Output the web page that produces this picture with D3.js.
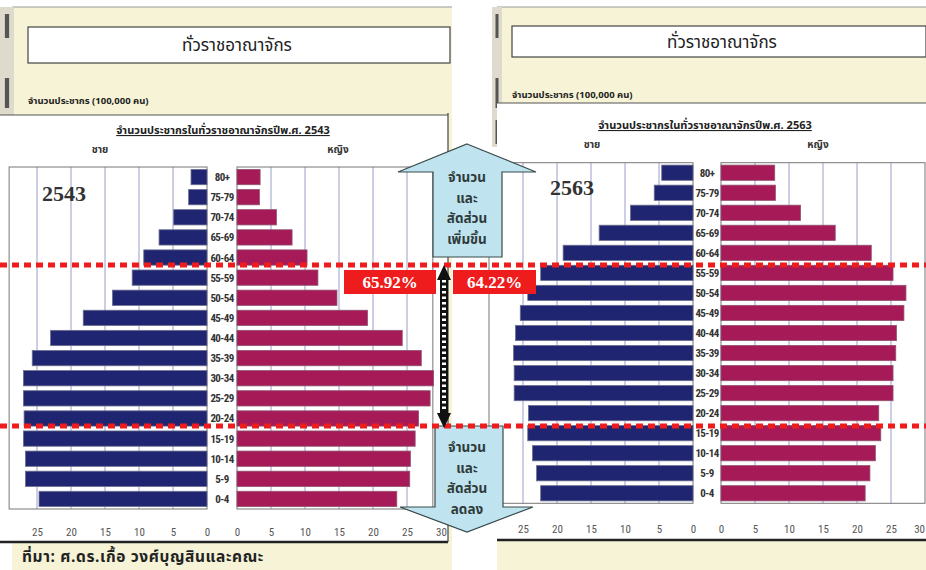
<!DOCTYPE html>
<html><head><meta charset="utf-8">
<script src="https://cdn.jsdelivr.net/npm/d3@7"></script>
<style>
html,body{margin:0;padding:0;background:#fff;}
svg{display:block;}
.thai{font-family:"Noto Sans Thai","Noto Sans Thai UI","Loma","Garuda","Noto Sans","DejaVu Sans",sans-serif;}
.narrow{font-family:"Liberation Sans Narrow","Arial Narrow","Roboto Condensed","Liberation Sans",sans-serif;}
.serif{font-family:"Liberation Serif","DejaVu Serif",serif;}
</style></head>
<body>
<svg id="c" width="926" height="570"></svg>
<script>
// ---------------- data ----------------
const ageGroups = ["80+","75-79","70-74","65-69","60-64","55-59","50-54","45-49","40-44","35-39","30-34","25-29","20-24","15-19","10-14","5-9","0-4"];
const male2543   = [2.35,2.7,4.9,7.05,9.3,11.0,13.9,18.2,23.0,25.7,27.0,27.0,26.9,27.0,26.7,26.7,24.7];
const female2543 = [3.4,3.3,5.8,8.1,10.3,11.9,14.7,19.2,24.3,27.1,28.9,28.4,26.7,26.2,25.5,25.4,23.5];
const male2563   = [4.6,5.7,9.2,13.8,19.1,22.4,24.3,25.4,26.1,26.4,26.3,26.3,24.2,24.3,23.6,23.0,22.4];
const female2563 = [7.9,8.0,11.7,16.8,22.1,25.3,27.2,26.9,25.8,25.7,25.3,25.3,23.2,23.5,22.7,21.9,21.2];
const tickValues = [0,5,10,15,20,25,30];
const gridValues = [5,10,15,20,25];
const titleText = "ทั่วราชอาณาจักร";
const unitText = "จำนวนประชากร (100,000 คน)";
const subTitle2543 = "จำนวนประชากรในทั่วราชอาณาจักรปีพ.ศ. 2543";
const subTitle2563 = "จำนวนประชากรในทั่วราชอาณาจักรปีพ.ศ. 2563";
const maleLabel = "ชาย", femaleLabel = "หญิง";
const upArrowLines = ["จำนวน","และ","สัดส่วน","เพิ่มขึ้น"];
const downArrowLines = ["จำนวน","และ","สัดส่วน","ลดลง"];
const share2543 = "65.92%", share2563 = "64.22%";
const sourceText = "ที่มา:  ศ.ดร.เกื้อ วงศ์บุญสินและคณะ";

// ---------------- drawing ----------------
const svg = d3.select("#c");
const CREAM = "#f6f3d6", NAVY = "#1f2571", CRIMSON = "#a61a57", RED = "#ee1c1c", GRID = "#9aa0c8", FRAME = "#777";

function panel(o){
  svg.append("rect").attr("x",o.x0).attr("y",7).attr("width",o.x1-o.x0).attr("height",563).attr("fill",CREAM);
  svg.append("line").attr("x1",o.x0).attr("x2",o.x1).attr("y1",7).attr("y2",7).attr("stroke","#999").attr("stroke-width",1);
  svg.append("rect").attr("x",o.stripX).attr("y",7).attr("width",o.stripW).attr("height",140).attr("fill","#dedbcc");
  [[14,24],[78,30],[120,24]].forEach(([y,h])=>{
    svg.append("rect").attr("x",o.stripX+o.stripW*0.35).attr("y",y).attr("width",o.stripW*0.3).attr("height",h).attr("fill","#555");
  });
  svg.append("rect").attr("x",o.wx0).attr("y",o.wy0).attr("width",o.wx1-o.wx0).attr("height",o.wy1-o.wy0).attr("fill","#fff");
  svg.append("line").attr("x1",o.wx0).attr("x2",o.wx1).attr("y1",o.wy0).attr("y2",o.wy0).attr("stroke","#555").attr("stroke-width",1.2);
  svg.append("line").attr("x1",o.wx0).attr("x2",o.wx1).attr("y1",o.wy1).attr("y2",o.wy1).attr("stroke","#222").attr("stroke-width",2.5);
  if(o.rightBorder) svg.append("line").attr("x1",o.wx1).attr("x2",o.wx1).attr("y1",o.wy0-2).attr("y2",o.wy1).attr("stroke","#444").attr("stroke-width",1.2);
  svg.append("rect").attr("x",o.tb[0]).attr("y",o.tb[1]).attr("width",o.tb[2]).attr("height",o.tb[3])
     .attr("fill","#fff").attr("stroke","#444").attr("stroke-width",1.2);
  svg.append("text").attr("class","thai").attr("x",o.tb[0]+o.tb[2]/2+o.titleDx).attr("y",o.tb[1]+o.tb[3]/2+6)
     .attr("text-anchor","middle").attr("font-size",17).attr("fill","#222").text(titleText);
  svg.append("text").attr("class","thai").attr("x",o.unitX).attr("y",o.unitY).attr("font-size",9.5).attr("font-weight","bold")
     .attr("fill","#222").text(unitText);
  svg.append("text").attr("class","thai").attr("x",o.subX).attr("y",o.subY).attr("text-anchor","middle")
     .attr("font-size",11).attr("font-weight","bold").attr("fill","#222").attr("text-decoration","underline").text(o.sub);
  svg.append("text").attr("class","thai").attr("x",o.mlX).attr("y",o.subY+19).attr("text-anchor","middle")
     .attr("font-size",10).attr("font-weight","bold").attr("fill","#333").text(maleLabel);
  svg.append("text").attr("class","thai").attr("x",o.flX).attr("y",o.subY+19).attr("text-anchor","middle")
     .attr("font-size",10).attr("font-weight","bold").attr("fill","#333").text(femaleLabel);

  const y = d3.scaleBand().domain(ageGroups).range([o.top,o.bottom]).paddingInner(0.24).paddingOuter(0.12);
  const xm = d3.scaleLinear().domain([0,30]).range([o.m0, o.m0 - 30*o.u]);
  const xf = d3.scaleLinear().domain([0,30]).range([o.f0, o.f0 + 30*o.u]);
  const g = svg.append("g");
  g.selectAll(".gm").data(gridValues).join("line").attr("x1",d=>xm(d)).attr("x2",d=>xm(d))
    .attr("y1",o.top).attr("y2",o.bottom).attr("stroke",GRID).attr("stroke-width",1);
  g.selectAll(".gf").data(gridValues).join("line").attr("x1",d=>xf(d)).attr("x2",d=>xf(d))
    .attr("y1",o.top).attr("y2",o.bottom).attr("stroke",GRID).attr("stroke-width",1);
  g.append("rect").attr("x",xm(o.mMax)).attr("y",o.top).attr("width",xm(0)-xm(o.mMax)).attr("height",o.bottom-o.top)
    .attr("fill","none").attr("stroke",FRAME).attr("stroke-width",1);
  g.append("rect").attr("x",xf(0)).attr("y",o.top).attr("width",xf(o.fMax)-xf(0)).attr("height",o.bottom-o.top)
    .attr("fill","none").attr("stroke",FRAME).attr("stroke-width",1);
  g.selectAll(".bm").data(o.male).join("rect")
    .attr("x",d=>xm(d)).attr("y",(d,i)=>y(ageGroups[i])).attr("width",d=>xm(0)-xm(d)).attr("height",y.bandwidth())
    .attr("fill",NAVY).attr("stroke","#6b6f8e").attr("stroke-width",0.8);
  g.selectAll(".bf").data(o.female).join("rect")
    .attr("x",xf(0)).attr("y",(d,i)=>y(ageGroups[i])).attr("width",d=>xf(d)-xf(0)).attr("height",y.bandwidth())
    .attr("fill",CRIMSON).attr("stroke","#8e5470").attr("stroke-width",0.8);
  g.selectAll(".al").data(ageGroups).join("text").attr("class","narrow")
    .attr("x",(o.m0+o.f0)/2).attr("y",d=>y(d)+y.bandwidth()/2+4).attr("text-anchor","middle")
    .attr("font-size",11).attr("font-weight","bold").attr("fill","#333").attr("letter-spacing","-0.6").text(d=>d);
  const axM = d3.axisBottom(xm).tickValues(tickValues.slice(0,6)).tickSize(0).tickPadding(0);
  const axF = d3.axisBottom(xf).tickValues(o.fTicks).tickSize(0).tickPadding(0);
  [axM,axF].forEach(ax=>{
    const a = svg.append("g").attr("transform",`translate(0,${o.axisY})`).call(ax);
    a.select(".domain").remove();
    a.selectAll("text").attr("class","narrow").attr("font-size",11).attr("fill","#555").attr("dy","0");
  });
  if(o.edgeTick){
    svg.append("text").attr("class","narrow").attr("x",925).attr("y",o.axisY).attr("text-anchor","end")
      .attr("font-size",11).attr("fill","#555").text(tickValues[6]);
  }
  svg.append("text").attr("class","serif").attr("x",o.yearX).attr("y",o.yearY).attr("font-size",22)
    .attr("font-weight","bold").attr("fill","#333").text(o.year);
}

panel({x0:12,x1:452,stripX:0,stripW:14,wx0:0,wy0:115,wx1:448,wy1:542,rightBorder:true,
  tb:[28,27,422,36],titleDx:-2,unitX:28,unitY:104,subX:223,subY:134,sub:subTitle2543,mlX:100,flX:338,
  top:167,bottom:509,m0:207,f0:237,u:6.8,mMax:29.1,fMax:28.8,axisY:536,fTicks:tickValues,
  male:male2543,female:female2543,year:"2543",yearX:42,yearY:201});
panel({x0:497,x1:926,stripX:492,stripW:10,wx0:497,wy0:103,wx1:926,wy1:540,rightBorder:false,
  tb:[512,26,414,31],titleDx:3,unitX:512,unitY:98,subX:705,subY:129,sub:subTitle2563,mlX:592,flX:818,
  top:162.7,bottom:503.3,m0:693,f0:721,u:6.8,mMax:30,fMax:30,axisY:533,fTicks:tickValues.slice(0,6),edgeTick:true,
  male:male2563,female:female2563,year:"2563",yearX:550,yearY:195});

// ---- arrows ----
const ARROW = "#bfe4ef";
const up = [[467,144],[536,172],[502,172],[502,257],[433,257],[433,172],[398,172]];
const down = [[435,426],[503,426],[503,507],[533,507],[467,532],[400,507],[435,507]];
[up,down].forEach(p=>{
  svg.append("path").attr("d",d3.line()(p)+"Z").attr("fill",ARROW).attr("stroke","#3a4a4a").attr("stroke-width",1.2);
});
const tlines = (lines, y0)=>{
  lines.forEach((t,i)=>svg.append("text").attr("class","thai").attr("x",467).attr("y",y0+i*20.5)
    .attr("text-anchor","middle").attr("font-size",13.5).attr("font-weight","bold").attr("fill","#2f3b3b").text(t));
};
tlines(upArrowLines,182);
tlines(downArrowLines,452);

// ---- red dashed lines ----
[265,426].forEach(yy=>{
  svg.append("line").attr("x1",0).attr("x2",926).attr("y1",yy).attr("y2",yy)
    .attr("stroke",RED).attr("stroke-width",5).attr("stroke-dasharray","7,5");
});

// ---- black double arrow ----
svg.append("line").attr("x1",444).attr("x2",444).attr("y1",278).attr("y2",414).attr("stroke","#111").attr("stroke-width",8);
svg.append("line").attr("x1",444).attr("x2",444).attr("y1",280).attr("y2",412).attr("stroke","#fff").attr("stroke-width",4).attr("stroke-dasharray","2.5,3");
svg.append("path").attr("d",d3.line()([[444,265],[451,280],[437,280]])+"Z").attr("fill","#111");
svg.append("path").attr("d",d3.line()([[444,428],[451,413],[437,413]])+"Z").attr("fill","#111");

// ---- share boxes ----
[[344,92,share2543],[453,83,share2563]].forEach(([x,w,t])=>{
  svg.append("rect").attr("x",x).attr("y",270).attr("width",w).attr("height",24).attr("fill",RED);
  svg.append("text").attr("class","serif").attr("x",x+w/2).attr("y",288).attr("text-anchor","middle")
    .attr("font-size",17).attr("font-weight","bold").attr("fill","#fff").text(t);
});

// ---- source ----
svg.append("text").attr("class","thai").attr("x",22).attr("y",562).attr("font-size",15.5).attr("font-weight","bold")
  .attr("letter-spacing","0.6").attr("fill","#222").text(sourceText);
</script>
</body></html>
